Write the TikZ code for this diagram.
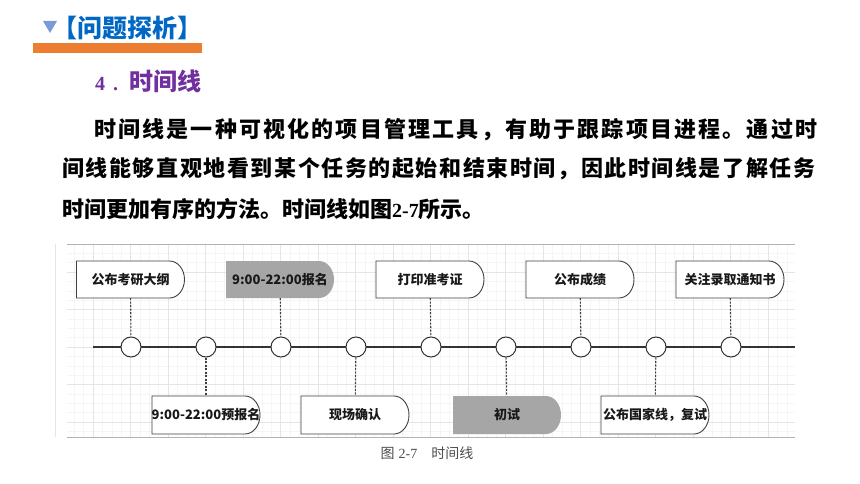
\documentclass[tikz,border=0pt]{standalone}
\usepackage{fontspec}
\setmainfont{Liberation Sans}
\newfontfamily\cjk{Noto Sans CJK SC}
\newfontfamily\tnr{Liberation Serif}
\definecolor{hdblue}{RGB}{0,104,196}
\definecolor{hdtri}{RGB}{122,155,214}
\definecolor{hdbar}{RGB}{237,125,49}
\definecolor{secpurple}{RGB}{112,48,160}

\tikzset{
	evt/.style={minimum width=108pt,minimum height=37pt,inner sep=0pt,text=black!90,font=\cjk\bfseries\fontsize{13}{14}\selectfont},
	whitebox/.style={draw=black!75,fill=white,line width=0.9pt},
	greybox/.style={fill=black!35},
	dot/.style={circle,draw=black!80,fill=white,line width=1pt,minimum size=20pt,inner sep=0pt},
	link/.style={black!75,line width=1.1pt,dash pattern=on 2pt off 1.5pt},
	para/.style={anchor=west,inner sep=0pt},
}

\begin{document}
\begin{tikzpicture}[x=1pt,y=-1pt]
	\useasboundingbox (0,0) rectangle (860,484);
	% header
	\fill[hdtri] (43,21) -- (57,21) -- (50,33) -- cycle;
	\node[para,text=hdblue,font=\cjk\bfseries\fontsize{25}{25}\selectfont] (hd) at (52,28) {【问题探析】};
	\fill[hdbar] (33,43) rectangle (202,53);
	\node[para,text=secpurple] (sec) at (95,81) {{\tnr\bfseries\fontsize{20}{20}\selectfont 4\hspace{8pt}.}\hspace{11pt}{\cjk\bfseries\fontsize{24}{24}\selectfont 时间线}};
	% paragraph
	\node[para,font=\cjk\bfseries\fontsize{22}{22}\selectfont\addfontfeatures{LetterSpace=9.9}] (p1) at (94,130) {时间线是一种可视化的项目管理工具，有助于跟踪项目进程。通过时};
	\node[para,font=\cjk\bfseries\fontsize{22}{22}\selectfont\addfontfeatures{LetterSpace=7.2}] (p2) at (62,169) {间线能够直观地看到某个任务的起始和结束时间，因此时间线是了解任务};
	\node[para,font=\cjk\bfseries\fontsize{22}{22}\selectfont] (p3) at (62,209) {时间更加有序的方法。时间线如图{\tnr\fontsize{20}{20}\selectfont 2-7}所示。};
	% grid
	\fill[white] (67,244) rectangle (795,437);
	\foreach \k in {-2,...,74} \draw[black!4,line width=0.5pt] ({93+\k*9.375},244) -- ++(0,193);
	\foreach \k in {-10,...,9} \draw[black!4,line width=0.5pt] (67,{347+\k*9.375}) -- ++(728,0);
	\foreach \k in {-1,...,18} \draw[black!10,line width=0.6pt] ({93+\k*37.5},244) -- ++(0,193);
	\foreach \k in {-2,...,2} \draw[black!10,line width=0.6pt] (67,{347+\k*37.5}) -- ++(728,0);
	\draw[black!30,line width=0.8pt] (67,244) -- (795,244);
	\draw[black!30,line width=0.8pt] (67,437) -- (795,437);
	% timeline
	\coordinate (tl0) at (93,347);
	\coordinate (tl1) at (795,347);
	\draw[black!80,line width=1.1pt] (tl0) -- (tl1);
	\foreach \k in {1,...,9} \node[dot] (c\k) at ({56+75*\k},347) {};
	% events above
	\foreach \x/\s/\txt [count=\i] in {130.5/whitebox/公布考研大纲,280/greybox/9:00-22:00报名,430/whitebox/打印准考证,580/whitebox/公布成绩,730/whitebox/关注录取通知书} {
		\path[\s] (\x-54,261) -- (\x+39,261) arc[start angle=90,end angle=-90,x radius=15pt,y radius=18.5pt] -- (\x-54,298) -- cycle;
		\node[evt] (t\i) at (\x,279.5) {\txt};
	}
	% events below
	\foreach \x/\s/\txt [count=\i] in {206/whitebox/9:00-22:00预报名,355/whitebox/现场确认,507/greybox/初试,655/whitebox/公布国家线，复试} {
		\path[\s] (\x-54,396) -- (\x+39,396) arc[start angle=90,end angle=-90,x radius=15pt,y radius=19pt] -- (\x-54,434) -- cycle;
		\node[evt,minimum height=38pt] (b\i) at (\x,415) {\txt};
	}
	\foreach \i/\j in {1/1,2/3,3/5,4/7,5/9} \draw[link] (t\i) -- (c\j);
	\foreach \i/\j in {1/2,2/4,3/6,4/8} \draw[link] (c\j) -- (b\i);
	% caption
	\node[text=black!70,font=\fontsize{14}{14}\selectfont] (cap) at (427,453) {{\cjk 图} {\tnr 2-7}\hspace{14pt}{\cjk 时间线}};
\end{tikzpicture}
\end{document}
